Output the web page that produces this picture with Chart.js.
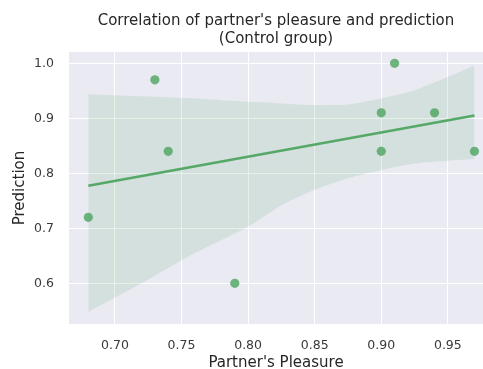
<!DOCTYPE html>
<html>
<head>
<meta charset="utf-8">
<script src="https://cdn.jsdelivr.net/npm/chart.js@4.4.1/dist/chart.umd.min.js"></script>
<style>
  html, body { margin: 0; padding: 0; background: #ffffff; }
  #wrap { width: 483px; height: 369px; position: relative; }
</style>
</head>
<body>
<div id="wrap"><canvas id="chart" width="483" height="369"></canvas></div>
<script>
// Control group observations
const pleasure   = [0.68, 0.73, 0.74, 0.79, 0.90, 0.90, 0.91, 0.94, 0.97];
const prediction = [0.72, 0.97, 0.84, 0.60, 0.91, 0.84, 1.00, 0.91, 0.84];

// 95% confidence band around the fitted line
const bandX    = [0.68, 0.72, 0.76, 0.80, 0.825, 0.85, 0.875, 0.90, 0.925, 0.95, 0.97];
const bandLow  = [0.548, 0.600, 0.655, 0.703, 0.742, 0.770, 0.791, 0.806, 0.818, 0.823, 0.826];
const bandHigh = [0.944, 0.940, 0.936, 0.930, 0.927, 0.924, 0.925, 0.936, 0.951, 0.975, 0.996];

// Axis ticks
const xTicks = [0.70, 0.75, 0.80, 0.85, 0.90, 0.95];
const yTicks = [0.6, 0.7, 0.8, 0.9, 1.0];

const titleLines = ["Correlation of partner's pleasure and prediction", '(Control group)'];

// Least-squares fit of prediction on partner's pleasure
const n = pleasure.length;
const mx = pleasure.reduce((a, b) => a + b, 0) / n;
const my = prediction.reduce((a, b) => a + b, 0) / n;
let sxy = 0, sxx = 0;
for (let i = 0; i < n; i++) {
  sxy += (pleasure[i] - mx) * (prediction[i] - my);
  sxx += (pleasure[i] - mx) ** 2;
}
const slope = sxy / sxx;
const intercept = my - slope * mx;
const xMin = Math.min(...pleasure), xMax = Math.max(...pleasure);
const fitLine = [xMin, xMax].map(x => ({ x, y: intercept + slope * x }));

const GREEN = '#55a868';
const FONT = "'DejaVu Sans', 'Liberation Sans', sans-serif";
const TEXT = '#3a3a3a';

// Grey plot panel behind the grid
const plotBackground = {
  id: 'plotBackground',
  beforeDraw(chart) {
    const { ctx, chartArea: a } = chart;
    ctx.save();
    ctx.fillStyle = '#eaeaf2';
    ctx.fillRect(a.left, a.top, a.right - a.left, a.bottom - a.top);
    ctx.restore();
  }
};

// Two-line title centred over the plot panel
const panelTitle = {
  id: 'panelTitle',
  afterDraw(chart) {
    const { ctx, chartArea: a } = chart;
    const cx = (a.left + a.right) / 2;
    ctx.save();
    ctx.fillStyle = '#262626';
    ctx.font = `15px ${FONT}`;
    ctx.textAlign = 'center';
    ctx.textBaseline = 'alphabetic';
    ctx.fillText(titleLines[0], cx, 24.5);
    ctx.fillText(titleLines[1], cx, 42.5);
    ctx.restore();
  }
};

new Chart(document.getElementById('chart'), {
  type: 'scatter',
  data: {
    datasets: [
      {
        label: 'band-low',
        type: 'line',
        data: bandX.map((x, i) => ({ x, y: bandLow[i] })),
        borderWidth: 0,
        pointRadius: 0,
        fill: false,
        tension: 0.2
      },
      {
        label: 'band-high',
        type: 'line',
        data: bandX.map((x, i) => ({ x, y: bandHigh[i] })),
        borderWidth: 0,
        pointRadius: 0,
        fill: '-1',
        backgroundColor: 'rgba(85,168,104,0.15)',
        tension: 0.2
      },
      {
        label: 'fit',
        type: 'line',
        data: fitLine,
        borderColor: GREEN,
        borderWidth: 2.5,
        pointRadius: 0,
        fill: false
      },
      {
        label: 'observations',
        data: pleasure.map((x, i) => ({ x, y: prediction[i] })),
        backgroundColor: 'rgba(85,168,104,0.85)',
        borderWidth: 0,
        pointRadius: 4.6,
        pointHoverRadius: 4.6
      }
    ]
  },
  options: {
    responsive: false,
    animation: false,
    events: [],
    layout: { autoPadding: false, padding: { top: 52, left: 0, right: 0, bottom: 0 } },
    plugins: {
      legend: { display: false },
      tooltip: { enabled: false },
      title: { display: false }
    },
    scales: {
      x: {
        type: 'linear',
        min: 0.6655,
        max: 0.9764,
        afterBuildTicks: s => { s.ticks = xTicks.map(v => ({ value: v })); },
        afterFit: s => { s.height = 45; s.paddingLeft = 0; s.paddingRight = 0; },
        border: { display: false },
        grid: { color: '#ffffff', lineWidth: 1, drawTicks: false },
        ticks: {
          padding: 14,
          color: TEXT,
          font: { family: FONT, size: 12.5 },
          callback: v => Number(v).toFixed(2)
        },
        title: {
          display: true,
          text: "Partner's Pleasure",
          color: '#262626',
          font: { family: FONT, size: 15, lineHeight: 0.75 },
          padding: { top: 0, bottom: 0 }
        }
      },
      y: {
        type: 'linear',
        min: 0.526,
        max: 1.0206,
        afterBuildTicks: s => { s.ticks = yTicks.map(v => ({ value: v })); },
        afterFit: s => { s.width = 69; s.paddingTop = 0; s.paddingBottom = 0; },
        border: { display: false },
        grid: { color: '#ffffff', lineWidth: 1, drawTicks: false },
        ticks: {
          padding: 15,
          color: TEXT,
          font: { family: FONT, size: 12.5 },
          callback: v => Number(v).toFixed(1)
        },
        title: {
          display: true,
          text: 'Prediction',
          color: '#262626',
          font: { family: FONT, size: 15, lineHeight: 1.2 },
          padding: { top: 11, bottom: 0 }
        }
      }
    }
  },
  plugins: [plotBackground, panelTitle]
});
</script>
</body>
</html>
